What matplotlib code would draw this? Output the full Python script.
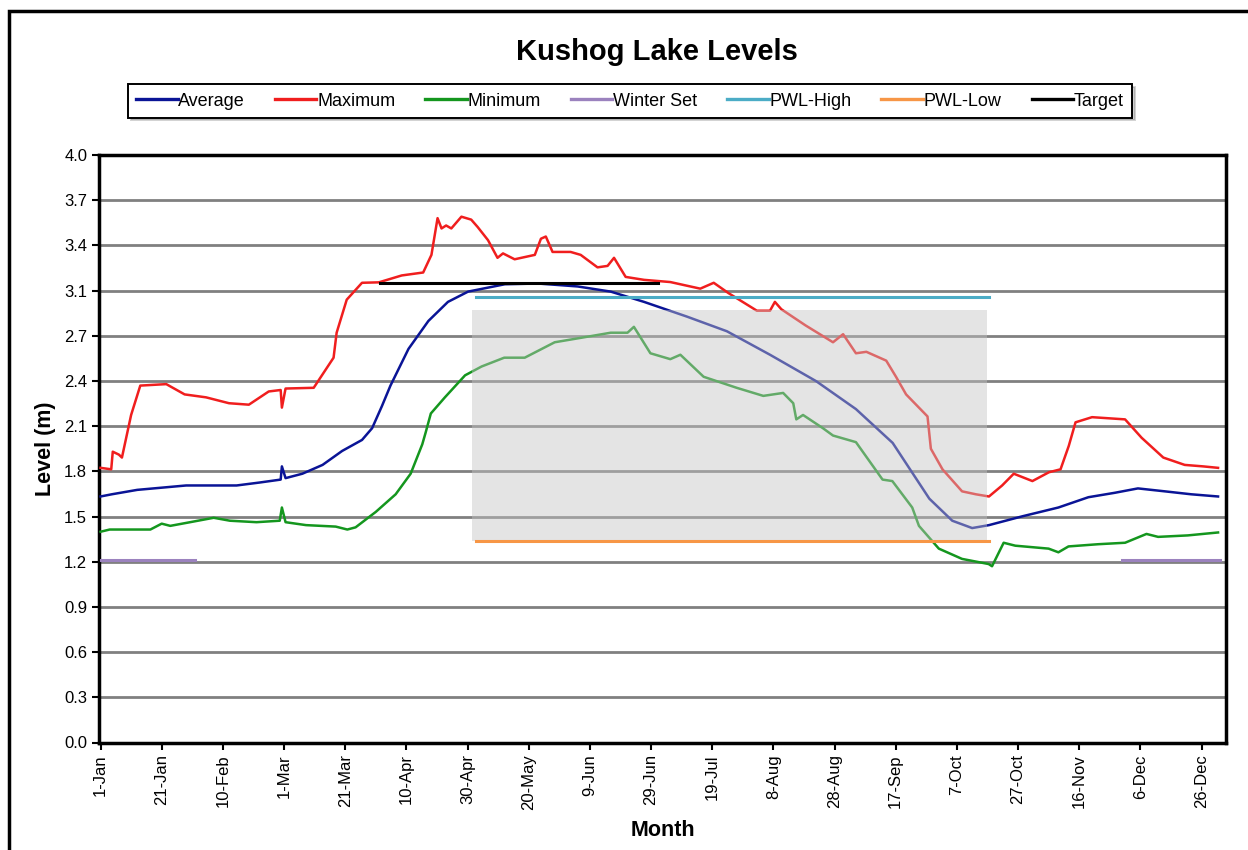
import matplotlib
matplotlib.use("Agg")
import matplotlib.pyplot as plt
from matplotlib.patches import Rectangle

plt.rcParams["font.family"] = ["Liberation Sans", "DejaVu Sans"]

# day of year (0 = 1-Jan) and level (m)
max_days = [0, 3.5, 4, 6, 7, 10, 13, 21.5, 27.5, 34.5, 42, 48.5, 55, 58.9, 59.3, 60.5,
            69.7, 76.2, 77.2, 80.5, 85.5, 91, 98.5, 105.5, 108.2, 110.2, 111.5, 113, 114.7,
            118, 121.2, 123.3, 126.7, 129.8, 131.6, 135.4, 142, 144, 145.6, 147.8, 153.7,
            157, 162.5, 165.8, 167.9, 171.7, 177.7, 186.3, 196.1, 200.5, 205.3, 214.6,
            218.9, 220.5, 222.6, 230.5, 239.5, 242.8, 247, 250.4, 256.9, 260.1, 263.4,
            270.4, 271.5, 275.3, 281.7, 286.2, 290.5, 294.8, 298.6, 304.7, 310.1, 313.9,
            316.6, 318.8, 324.2, 335, 340.4, 347.5, 354.5, 360.5, 365.4]
max_level = [1.87, 1.86, 1.98, 1.96, 1.94, 2.23, 2.43, 2.44, 2.37, 2.35, 2.31, 2.30, 2.39,
             2.40, 2.28, 2.41, 2.415, 2.62, 2.79, 3.015, 3.13, 3.133, 3.18, 3.20, 3.32,
             3.57, 3.50, 3.52, 3.50, 3.58, 3.56, 3.51, 3.42, 3.30, 3.33, 3.29, 3.32, 3.43,
             3.445, 3.34, 3.34, 3.32, 3.235, 3.245, 3.30, 3.17, 3.15, 3.135, 3.09, 3.13,
             3.06, 2.94, 2.94, 3.00, 2.95, 2.84, 2.725, 2.78, 2.65, 2.66, 2.60, 2.49, 2.37,
             2.22, 2.00, 1.86, 1.71, 1.69, 1.675, 1.75, 1.83, 1.78, 1.84, 1.86, 2.02, 2.18,
             2.215, 2.20, 2.075, 1.94, 1.89, 1.88, 1.87]

avg_days = [0, 3.7, 12, 28, 44.5, 52, 58.9, 59.3, 60.5, 66, 72.6, 79, 85.5, 88.8, 92,
            94.8, 100.7, 107.2, 113.6, 120.2, 132.2, 143, 156, 166.8, 177.7, 191.7, 204.8,
            218.9, 234, 247, 259, 271, 278.5, 285, 290.5, 301.4, 313.2, 323, 331.6, 339.2,
            348, 356.6, 365.4]
avg_level = [1.675, 1.69, 1.72, 1.75, 1.75, 1.77, 1.79, 1.88, 1.80, 1.83, 1.89, 1.985,
             2.06, 2.14, 2.29, 2.43, 2.68, 2.87, 3.00, 3.07, 3.12, 3.125, 3.105, 3.07, 3.00,
             2.90, 2.80, 2.64, 2.46, 2.27, 2.04, 1.66, 1.51, 1.46, 1.48, 1.54, 1.60, 1.67,
             1.70, 1.73, 1.71, 1.69, 1.675]

min_days = [0, 3, 16.3, 20, 22.8, 29.3, 37, 42.3, 51, 58.6, 59.3, 60.5, 67.2, 76.9, 80.7,
            83.4, 90, 96.5, 101.4, 105.2, 106.3, 108, 112.6, 119.2, 124.6, 132, 138.7,
            148.5, 157, 166.8, 172.3, 174.4, 179.8, 186.3, 189.6, 197.2, 208, 216.7, 223.2,
            226.5, 227.5, 229.7, 236.2, 239.5, 247, 255.7, 258.9, 265.4, 267.6, 274.1,
            281.7, 290.4, 291.5, 295.3, 299.1, 310, 313.2, 316.5, 326.2, 335, 342, 345.8,
            355.5, 365.4]
min_level = [1.435, 1.45, 1.45, 1.49, 1.475, 1.50, 1.53, 1.51, 1.50, 1.51, 1.60, 1.50,
             1.48, 1.47, 1.45, 1.465, 1.57, 1.69, 1.83, 2.03, 2.11, 2.24, 2.35, 2.50, 2.56,
             2.62, 2.62, 2.725, 2.755, 2.79, 2.79, 2.83, 2.65, 2.61, 2.64, 2.49, 2.415, 2.36,
             2.38, 2.31, 2.20, 2.23, 2.14, 2.09, 2.045, 1.79, 1.78, 1.60, 1.475, 1.32, 1.25,
             1.215, 1.20, 1.36, 1.34, 1.32, 1.295, 1.335, 1.35, 1.36, 1.42, 1.40, 1.41, 1.43]

winter_days = [[0, 31], [334, 366]]
winter_level = 1.24
pwl_days = [122.7, 290.4]
pwl_high = 3.03
pwl_low = 1.37
target_days = [91.5, 182.3]
target_level = 3.13
band_days = [121.3, 290]
band_levels = [1.37, 2.945]

tick_days = list(range(0, 361, 20))
tick_labels = ["1-Jan", "21-Jan", "10-Feb", "1-Mar", "21-Mar", "10-Apr", "30-Apr",
               "20-May", "9-Jun", "29-Jun", "19-Jul", "8-Aug", "28-Aug", "17-Sep",
               "7-Oct", "27-Oct", "16-Nov", "6-Dec", "26-Dec"]
y_labels = ["0.0", "0.3", "0.6", "0.9", "1.2", "1.5", "1.8", "2.1", "2.4", "2.7",
            "3.1", "3.4", "3.7", "4.0"]

fig = plt.figure(figsize=(12.48, 8.5), dpi=100)
ax = fig.add_axes([99 / 1248, 1 - 742.5 / 850, 1127 / 1248, 587.5 / 850])

lw = 1.8
ax.plot(avg_days, avg_level, color="#0a1496", lw=lw, label="Average", zorder=3)
ax.plot(max_days, max_level, color="#f01e1e", lw=lw, label="Maximum", zorder=3)
ax.plot(min_days, min_level, color="#14961e", lw=lw, label="Minimum", zorder=3)
for i, seg in enumerate(winter_days):
    ax.plot(seg, [winter_level] * 2, color="#9b82be", lw=2.2, zorder=3,
            label="Winter Set" if i == 0 else None)

# shaded band sits over the curves, so they look faded inside it
ax.add_patch(Rectangle((band_days[0], band_levels[0]), band_days[1] - band_days[0],
                       band_levels[1] - band_levels[0], facecolor="#c4c4c4",
                       alpha=0.45, lw=0, zorder=4))

ax.plot(pwl_days, [pwl_high] * 2, color="#4bacc6", lw=2.2, label="PWL-High", zorder=5)
ax.plot(pwl_days, [pwl_low] * 2, color="#f79646", lw=2.2, label="PWL-Low", zorder=5)
ax.plot(target_days, [target_level] * 2, color="black", lw=2.2, label="Target", zorder=5)

ax.set_xlim(-0.5, 368)
ax.set_ylim(0, 4)
ax.set_xticks(tick_days)
ax.set_xticklabels(tick_labels, rotation=90, fontsize=12)
ax.set_yticks([4 * i / 13 for i in range(14)])
ax.set_yticklabels(y_labels, fontsize=12)
ax.tick_params(direction="out", length=5, width=1.5, color="black")
ax.yaxis.grid(True, color="#808080", lw=2)
ax.set_axisbelow(True)
for s in ax.spines.values():
    s.set_linewidth(2.5)
    s.set_color("black")

ax.set_ylabel("Level (m)", fontsize=15.5, fontweight="bold", labelpad=6)
ax.set_xlabel("Month", fontsize=15.5, fontweight="bold", labelpad=7)

fig.text(657 / 1248, 1 - 52 / 850, "Kushog Lake Levels", fontsize=21,
         fontweight="bold", ha="center", va="center")

leg = fig.legend(loc="center", bbox_to_anchor=(630 / 1248, 1 - 101 / 850), ncol=7,
                 fontsize=13, frameon=True, fancybox=False, shadow={"ox": 2, "oy": -2, "alpha": 0.25},
                 edgecolor="black", handlelength=2.3, handletextpad=0.05,
                 columnspacing=1.65, borderpad=0.45)
leg.get_frame().set_linewidth(1.4)
for h in leg.get_lines():
    h.set_linewidth(2.4)

fig.add_artist(Rectangle((9 / 1248, -0.1), 1.2, 1.1 - 11 / 850, transform=fig.transFigure,
                         fill=False, lw=2.5, edgecolor="black"))

fig.savefig("out.png", dpi=100)
